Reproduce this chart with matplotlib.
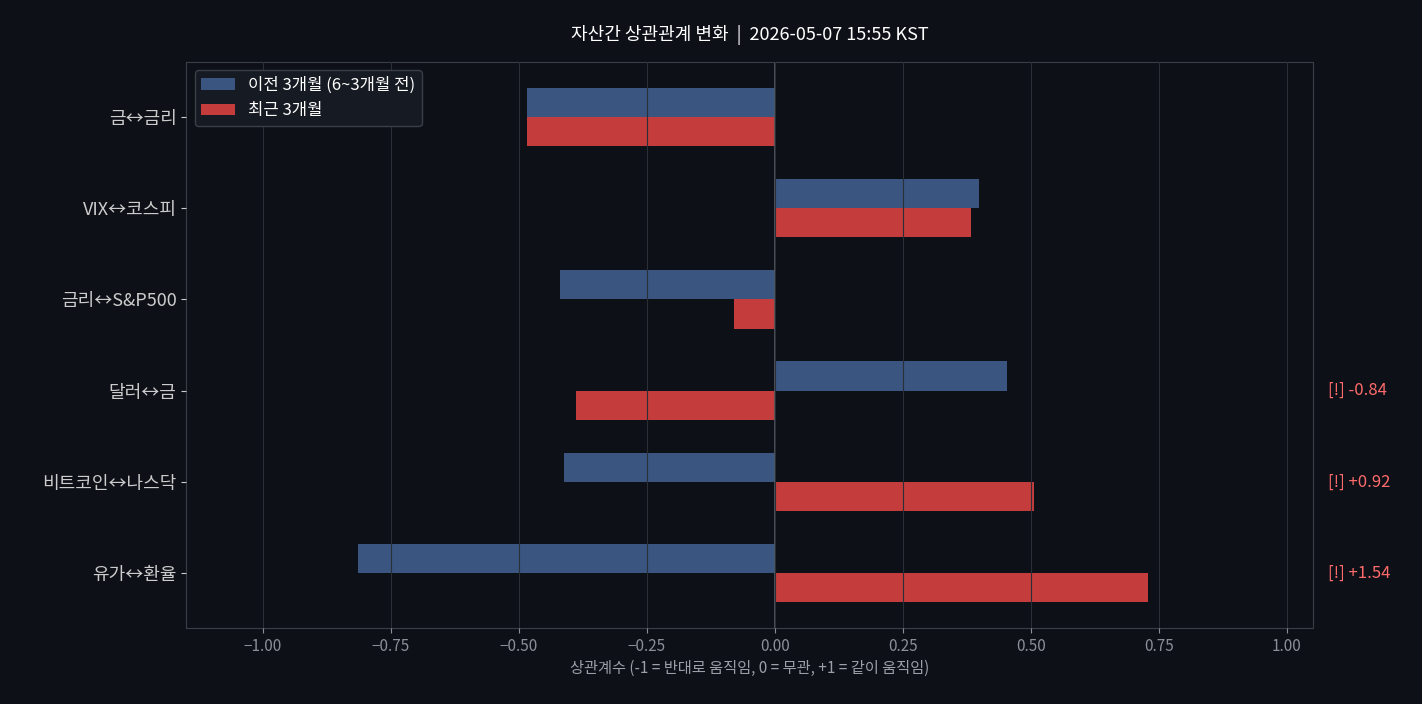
import numpy as np
import matplotlib.pyplot as plt

plt.rcParams['font.family'] = ['Noto Sans CJK KR', 'DejaVu Sans']

pairs = ["금↔금리", "VIX↔코스피", "금리↔S&P500", "달러↔금", "비트코인↔나스닥", "유가↔환율"]
prev_corr = [-0.484, 0.398, -0.42, 0.453, -0.412, -0.814]
recent_corr = [-0.484, 0.383, -0.08, -0.389, 0.506, 0.729]
alerts = {3: "[!] -0.84", 4: "[!] +0.92", 5: "[!] +1.54"}

bg = "#0d1017"
fig, ax = plt.subplots(figsize=(14.22, 7.04), dpi=100)
fig.patch.set_facecolor(bg)
ax.set_facecolor(bg)

y = np.arange(len(pairs))
h = 0.32
ax.barh(y - h / 2, prev_corr, height=h, color="#3a5580", label="이전 3개월 (6~3개월 전)", zorder=1)
ax.barh(y + h / 2, recent_corr, height=h, color="#c43c3c", label="최근 3개월", zorder=1)
ax.axvline(0, color="#555a63", lw=1.2, zorder=2)

ax.set_yticks(y)
ax.set_yticklabels(pairs, fontsize=13, color="white")
ax.invert_yaxis()
ax.set_xlim(-1.15, 1.05)
ax.set_xticks(np.arange(-1, 1.01, 0.25))
ax.tick_params(axis="x", colors="#8a8f98", labelsize=11)
ax.tick_params(axis="y", colors="#cccccc")
ax.grid(axis="x", color="#2a2e36", lw=0.8, zorder=3)
ax.set_axisbelow(False)
for s in ax.spines.values():
    s.set_color("#3a3e46")

for i, txt in alerts.items():
    ax.text(1.014, y[i], txt, color="#ff6b6b", fontsize=12, va="center", ha="left",
            transform=ax.get_yaxis_transform())

ax.set_xlabel("상관계수 (-1 = 반대로 움직임, 0 = 무관, +1 = 같이 움직임)", color="#9a9fa8", fontsize=11)
ax.set_title("자산간 상관관계 변화  |  2026-05-07 15:55 KST", color="white", fontsize=13,
             pad=16, fontweight="medium")
leg = ax.legend(loc="upper left", fontsize=12, facecolor="#161a22", edgecolor="#3a3e46", framealpha=1)
for t in leg.get_texts():
    t.set_color("white")

plt.subplots_adjust(left=0.131, right=0.923, top=0.912, bottom=0.108)
plt.savefig("out.png", facecolor=bg)
